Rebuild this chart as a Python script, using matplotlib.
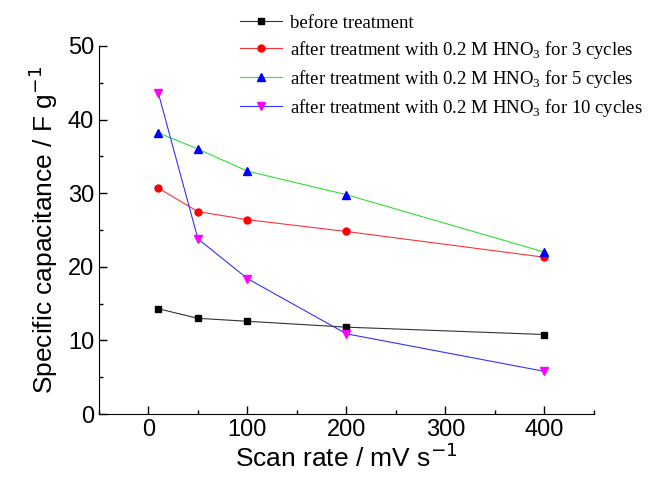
import matplotlib.pyplot as plt
from matplotlib.ticker import MultipleLocator

scan_rate = [10, 50, 100, 200, 400]
before = [14.3, 13.0, 12.6, 11.8, 10.8]
cyc3 = [30.7, 27.5, 26.4, 24.8, 21.3]
cyc5 = [38.2, 36.0, 33.0, 29.8, 22.0]
cyc10 = [43.6, 23.8, 18.4, 10.9, 5.8]

labels = ["before treatment",
          "after treatment with 0.2 M HNO$_3$ for 3 cycles",
          "after treatment with 0.2 M HNO$_3$ for 5 cycles",
          "after treatment with 0.2 M HNO$_3$ for 10 cycles"]

plt.rcParams['font.family'] = ['Liberation Sans', 'DejaVu Sans']
plt.rcParams['mathtext.fontset'] = 'custom'
plt.rcParams['mathtext.rm'] = 'Liberation Serif'

fig = plt.figure(figsize=(6.51, 4.84), dpi=100)
ax = fig.add_axes([0.152, 0.1446, 0.76, 0.7604])

ax.plot(scan_rate, before, '-s', color='#333333', mfc='black', mec='black', ms=5, lw=0.8, label=labels[0])
ax.plot(scan_rate, cyc3, '-o', color='#ff3333', mfc='red', mec='red', ms=5, lw=0.8, label=labels[1])
ax.plot(scan_rate, cyc5, '-^', color='#33dd33', mfc='blue', mec='blue', ms=6, lw=0.8, label=labels[2])
ax.plot(scan_rate, cyc10, '-v', color='#3333ff', mfc='magenta', mec='magenta', ms=6, lw=0.8, label=labels[3])

ax.set_xlim(-50, 450)
ax.set_ylim(0, 50)
ax.xaxis.set_major_locator(MultipleLocator(100))
ax.xaxis.set_minor_locator(MultipleLocator(50))
ax.yaxis.set_major_locator(MultipleLocator(10))
ax.yaxis.set_minor_locator(MultipleLocator(5))
ax.tick_params(which='both', direction='in', labelsize=17, width=1)
ax.tick_params(which='major', length=6)
ax.tick_params(which='minor', length=3)
ax.spines['top'].set_visible(False)
ax.spines['right'].set_visible(False)

ax.set_xlabel("Scan rate / mV s$^{-1}$", fontsize=19, labelpad=2)
ax.set_ylabel("Specific capacitance / F g$^{-1}$", fontsize=19, labelpad=6)
ax.xaxis.label.set_math_fontfamily('dejavusans')
ax.yaxis.label.set_math_fontfamily('dejavusans')

fig.legend(loc='upper left', bbox_to_anchor=(0.343, 1.005), frameon=False,
           prop={'family': 'Liberation Serif', 'size': 13.5},
           handlelength=2.25, handletextpad=0.4, labelspacing=0.38)

fig.savefig("out.png", dpi=100)
